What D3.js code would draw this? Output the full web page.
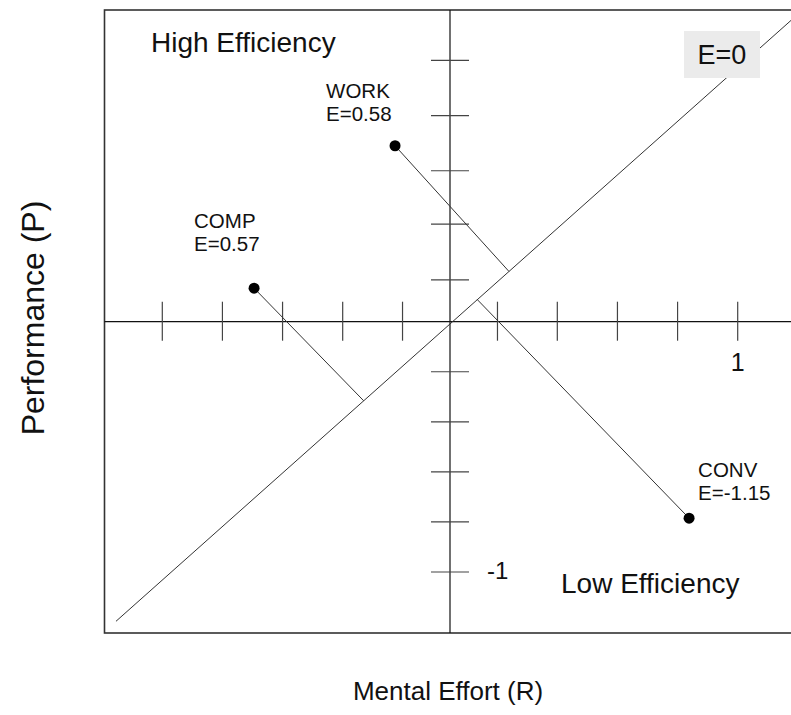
<!DOCTYPE html>
<html><head><meta charset="utf-8">
<script src="https://cdn.jsdelivr.net/npm/d3@7"></script>
<style>html,body{margin:0;padding:0;background:#fff;}svg{display:block;}</style>
</head><body>
<svg id="c" width="791" height="715"></svg>
<script>
// ---- data ----
const names = ["WORK", "COMP", "CONV"];
const effort = [-0.191, -0.681, 0.831];      // R
const perf = [0.703, 0.134, -0.785];         // P
const effLabels = ["E=0.58", "E=0.57", "E=-1.15"];
const footR = [0.205, -0.30, 0.095];         // where each connector meets the E=0 line (R)
const xTicks = [-1, -0.791, -0.582, -0.373, -0.165, 0.165, 0.373, 0.582, 0.791, 1];
const yTicks = [1.044, 0.823, 0.603, 0.39, 0.167, -0.2, -0.4, -0.6, -0.8, -1];
const xTickLabels = [{v: 1, t: "1"}];
const yTickLabels = [{v: -1, t: "-1"}];
const zeroLineR = [-1.161, 1.25];
const zeroLineP = [-1.197, 1.27];

(function () {
const svg = d3.select("#c");
const font = "'Liberation Sans', Arial, sans-serif";
const x = d3.scaleLinear().domain([-1, 1]).range([162.3, 737.7]);
const y = d3.scaleLinear().domain([-1, 1]).range([572, 71.4]);
const fL = 104.5, fT = 10, fB = 633, fR = 800;
const zeroP = d3.scaleLinear().domain(zeroLineR).range(zeroLineP);

// frame
svg.append("rect").attr("x", fL).attr("y", fT).attr("width", fR - fL).attr("height", fB - fT)
  .attr("fill", "none").attr("stroke", "#333").attr("stroke-width", 1.6);

// axes lines
svg.append("line").attr("x1", fL).attr("x2", fR).attr("y1", y(0)).attr("y2", y(0))
  .attr("stroke", "#111").attr("stroke-width", 1.2);
svg.append("line").attr("x1", x(0)).attr("x2", x(0)).attr("y1", fT).attr("y2", fB)
  .attr("stroke", "#111").attr("stroke-width", 1.2);

// ticks
svg.selectAll(".xt").data(xTicks).enter().append("line")
  .attr("x1", d => x(d)).attr("x2", d => x(d)).attr("y1", y(0) - 20).attr("y2", y(0) + 19)
  .attr("stroke", "#444").attr("stroke-width", 1.2);
svg.selectAll(".yt").data(yTicks).enter().append("line")
  .attr("y1", d => y(d)).attr("y2", d => y(d)).attr("x1", x(0) - 19).attr("x2", x(0) + 19)
  .attr("stroke", "#444").attr("stroke-width", 1.2);

// tick labels
svg.selectAll(".xl").data(xTickLabels).enter().append("text")
  .attr("x", d => x(d.v)).attr("y", y(0) + 49).attr("text-anchor", "middle")
  .attr("font-family", font).attr("font-size", 25).attr("fill", "#111").text(d => d.t);
svg.selectAll(".yl").data(yTickLabels).enter().append("text")
  .attr("x", x(0) + 37).attr("y", d => y(d.v) + 6.5).attr("text-anchor", "start")
  .attr("font-family", font).attr("font-size", 24).attr("fill", "#111").text(d => d.t);

// E=0 line
const p1 = [x(zeroLineR[0]), y(zeroLineP[0])], p2 = [x(zeroLineR[1]), y(zeroLineP[1])];
svg.append("line").attr("x1", p1[0]).attr("y1", p1[1]).attr("x2", p2[0]).attr("y2", p2[1])
  .attr("stroke", "#333").attr("stroke-width", 1);

// connectors to E=0 line
svg.selectAll(".cn").data(names).enter().append("line")
  .attr("x1", (d, i) => x(effort[i])).attr("y1", (d, i) => y(perf[i]))
  .attr("x2", (d, i) => x(footR[i])).attr("y2", (d, i) => y(zeroP(footR[i])))
  .attr("stroke", "#333").attr("stroke-width", 1);

// points
svg.selectAll(".pt").data(names).enter().append("circle")
  .attr("cx", (d, i) => x(effort[i])).attr("cy", (d, i) => y(perf[i])).attr("r", 5.5).attr("fill", "#000");

// point labels
const lblOff = [[-69, -48], [-60, -60], [9, -41]];
names.forEach((n, i) => {
  const tx = x(effort[i]) + lblOff[i][0], ty = y(perf[i]) + lblOff[i][1];
  const t = svg.append("text").attr("x", tx).attr("y", ty).attr("font-family", font).attr("font-size", 20.5).attr("fill", "#111");
  t.append("tspan").attr("x", tx).attr("dy", 0).text(n);
  t.append("tspan").attr("x", tx).attr("dy", 23).text(effLabels[i]);
});

// E=0 box
svg.append("rect").attr("x", 684).attr("y", 31).attr("width", 76).attr("height", 47).attr("fill", "#ebebeb");
svg.append("text").attr("x", 722).attr("y", 63.5).attr("text-anchor", "middle")
  .attr("font-family", font).attr("font-size", 27).attr("fill", "#111").text("E=0");

// region labels
svg.append("text").attr("x", 151).attr("y", 52).attr("font-family", font).attr("font-size", 28)
  .attr("fill", "#111").text("High Efficiency");
svg.append("text").attr("x", 561).attr("y", 593).attr("font-family", font).attr("font-size", 28)
  .attr("fill", "#111").text("Low Efficiency");

// axis titles
svg.append("text").attr("x", 448).attr("y", 700).attr("text-anchor", "middle")
  .attr("font-family", font).attr("font-size", 26).attr("fill", "#111").text("Mental Effort (R)");
svg.append("text").attr("x", 44).attr("y", 318).attr("transform", "rotate(-90,44,318)")
  .attr("text-anchor", "middle")
  .attr("font-family", font).attr("font-size", 32).attr("fill", "#111").text("Performance (P)");
})();
</script>
</body></html>
